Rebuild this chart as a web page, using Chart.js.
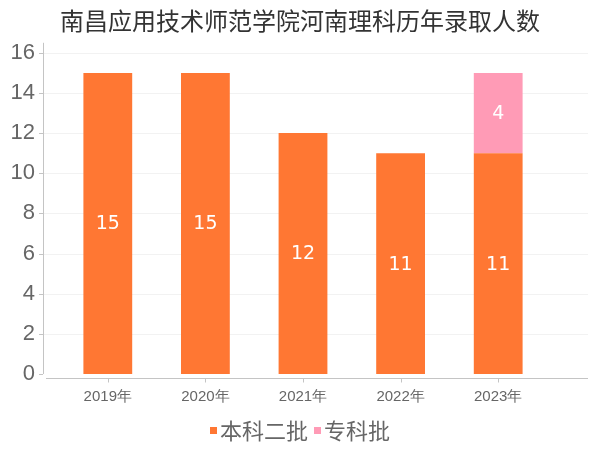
<!DOCTYPE html>
<html>
<head>
<meta charset="utf-8">
<script src="https://cdn.jsdelivr.net/npm/chart.js@4/dist/chart.umd.min.js"></script>
<style>
  html, body { margin: 0; padding: 0; background: #fff; }
  #wrap { width: 600px; height: 450px; position: relative; }
</style>
</head>
<body>
<div id="wrap"><canvas id="c"></canvas></div>
<script>
const years = ['2019年', '2020年', '2021年', '2022年', '2023年'];
const benke2 = [15, 15, 12, 11, 11];
const zhuanke = [null, null, null, null, 4];
const yTicks = [0, 2, 4, 6, 8, 10, 12, 14, 16];

const ORANGE = '#ff7733';
const PINK = '#ff9bb6';
const AXIS = '#c4c4c4';
const LEGEND_FONT = '22px "Noto Sans CJK SC"';

// axis lines + faint grid drawn a bit wider than the category band
const axisDeco = {
  id: 'axisDeco',
  beforeDatasetsDraw(chart) {
    const { ctx, chartArea: a, scales: { x, y } } = chart;
    const left = a.left - 16, right = a.right + 41;
    ctx.save();
    ctx.lineWidth = 1;
    ctx.strokeStyle = '#f2f2f2';
    yTicks.forEach(v => {
      if (v === 0) return;
      const py = Math.round(y.getPixelForValue(v)) + 0.5;
      ctx.beginPath(); ctx.moveTo(left + 1, py); ctx.lineTo(right, py); ctx.stroke();
    });
    ctx.strokeStyle = AXIS;
    ctx.beginPath();
    ctx.moveTo(left + 0.5, a.top - 10); ctx.lineTo(left + 0.5, a.bottom);
    yTicks.forEach(v => {
      const py = Math.round(y.getPixelForValue(v)) + 0.5;
      ctx.moveTo(left - 4, py); ctx.lineTo(left, py);
    });
    ctx.stroke();
    const bx = Math.round(a.bottom) + 4.5;
    ctx.beginPath();
    ctx.moveTo(left + 3, bx); ctx.lineTo(right, bx);
    years.forEach((_, i) => {
      const px = Math.round(x.getPixelForValue(i)) + 0.5;
      ctx.moveTo(px, bx); ctx.lineTo(px, bx + 4);
    });
    ctx.stroke();
    ctx.restore();
  }
};

// white value labels centred in each bar segment
const barLabels = {
  id: 'barLabels',
  afterDatasetsDraw(chart) {
    const { ctx } = chart;
    ctx.save();
    ctx.fillStyle = '#fff';
    ctx.font = '19px "DejaVu Sans"';
    ctx.textAlign = 'center';
    ctx.textBaseline = 'middle';
    chart.data.datasets.forEach((ds, di) => {
      chart.getDatasetMeta(di).data.forEach((bar, i) => {
        const v = ds.data[i];
        if (v == null) return;
        const { x, y, base } = bar.getProps(['x', 'y', 'base'], true);
        ctx.fillText(String(v), x, (y + base) / 2 + 1);
      });
    });
    ctx.restore();
  }
};

// compact legend: small square right next to the text
const bottomLegend = {
  id: 'bottomLegend',
  afterDraw(chart) {
    const { ctx, width, height } = chart;
    const items = chart.data.datasets.map(d => ({ text: d.label, color: d.backgroundColor }));
    ctx.save();
    ctx.font = LEGEND_FONT;
    const box = 7, gapIn = 3, gapOut = 6;
    const widths = items.map(it => box + gapIn + ctx.measureText(it.text).width);
    const total = widths.reduce((s, w) => s + w, 0) + gapOut * (items.length - 1);
    let x = (width - total) / 2;
    const cy = height - 19;
    ctx.textBaseline = 'middle';
    items.forEach((it, i) => {
      ctx.fillStyle = it.color;
      ctx.fillRect(Math.round(x), Math.round(cy - box / 2) - 1, box, box);
      ctx.fillStyle = '#666';
      ctx.fillText(it.text, x + box + gapIn, cy);
      x += widths[i] + gapOut;
    });
    ctx.restore();
  }
};

new Chart(document.getElementById('c'), {
  type: 'bar',
  data: {
    labels: years,
    datasets: [
      { label: '本科二批', data: benke2, backgroundColor: ORANGE },
      { label: '专科批', data: zhuanke, backgroundColor: PINK },
    ],
  },
  options: {
    responsive: true,
    maintainAspectRatio: false,
    animation: false,
    layout: { padding: { left: 0, right: 0, top: 0, bottom: 40 } },
    datasets: { bar: { categoryPercentage: 1, barPercentage: 0.5 } },
    plugins: {
      title: {
        display: true,
        text: '南昌应用技术师范学院河南理科历年录取人数',
        color: '#333',
        font: { family: '"Noto Sans CJK SC"', size: 24, weight: 'normal' },
        padding: { top: 6, bottom: 18 },
      },
      legend: { display: false },
      tooltip: { enabled: false },
    },
    scales: {
      x: {
        stacked: true,
        afterFit: (s) => { s.height = 36; },
        grid: { display: false, drawTicks: false },
        border: { display: false },
        ticks: { color: '#666', padding: 14, font: { family: '"Liberation Sans"', size: 15 } },
      },
      y: {
        stacked: true,
        min: 0,
        max: 16,
        afterFit: (s) => { s.width = 59; },
        afterBuildTicks: (s) => { s.ticks = yTicks.map(v => ({ value: v })); },
        grid: { display: false, drawTicks: false },
        border: { display: false },
        ticks: { color: '#666', padding: 24, font: { family: '"Liberation Sans"', size: 22 } },
      },
      // empty right-side axis only reserves room so the bars sit left of centre
      yRight: {
        position: 'right',
        display: true,
        afterFit: (s) => { s.width = 53; },
        grid: { display: false, drawTicks: false },
        border: { display: false },
        ticks: { display: false },
      },
    },
  },
  plugins: [axisDeco, barLabels, bottomLegend],
});
</script>
</body>
</html>
